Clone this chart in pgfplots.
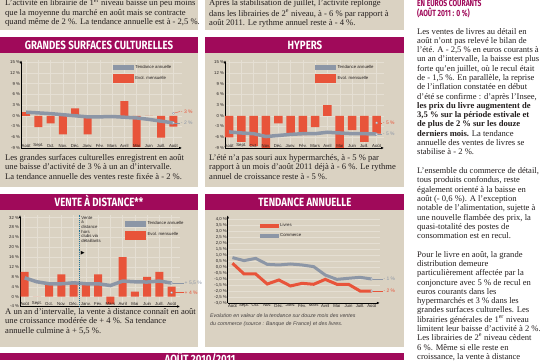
\documentclass[border=0pt]{standalone}
\usepackage{fontspec}
\setmainfont{Liberation Serif}
\newfontfamily\sansf{Liberation Sans}
\newfontfamily\titlef{Fira Sans}
\newfontfamily\symf{DejaVu Sans}
\usepackage{pgfplots}
\pgfplotsset{compat=1.18}
\usetikzlibrary{arrows.meta}

\definecolor{beige}{RGB}{218,210,194}
\definecolor{mag}{RGB}{160,10,90}
\definecolor{barred}{RGB}{232,84,58}
\definecolor{tgray}{RGB}{140,150,166}
\definecolor{gridc}{RGB}{229,223,211}
\definecolor{txt}{RGB}{35,30,30}
\definecolor{tealc}{RGB}{35,115,150}

\newcommand{\tickf}{\sansf\fontsize{4.3}{5}\selectfont}
\newcommand{\labf}{\sansf\fontsize{5}{6}\selectfont}
\newcommand{\bodyf}{\fontsize{8.6}{9.3}\selectfont}
\newcommand{\bodyg}{\fontsize{8.6}{9.6}\selectfont}
\newcommand{\ttl}[1]{\scalebox{0.81}[1]{\titlef\bfseries\fontsize{12}{12}\selectfont #1}}
\newcommand{\hed}[1]{\scalebox{0.75}[1]{\titlef\bfseries\fontsize{9}{9}\selectfont #1}}

\pgfplotsset{
  chartbase/.style={
    scale only axis, clip=false, anchor=south west,
    axis lines=left,
    axis line style={black, line width=0.5bp, -{Latex[length=3bp,width=2.6bp]}},
    x axis line style={-{Latex[length=3bp,width=2.6bp]}},
    y axis line style={-{Latex[length=3bp,width=2.6bp]}},
    major tick length=0pt,
    tick label style={font=\tickf, text=txt, inner sep=0.8bp},
    grid style={draw=gridc, line width=0.4bp},
    legend cell align=left,
    legend style={draw=none, fill=none, font=\tickf, text=txt, inner sep=0pt, row sep=2.5bp},
  },
  barchart/.style={chartbase, xtick={0,...,12}, xticklabels={}, grid=major},
  monthlab/.style={draw=none, mark=none, forget plot, nodes near coords, point meta=explicit symbolic,
    nodes near coords style={anchor=south, font=\tickf, text=txt, inner sep=0.6bp}},
  trendleg/.style={legend image code/.code={\fill[tgray] (0bp,-2.2bp) rectangle (20bp,2.2bp);}},
  barleg/.style={legend image code/.code={\fill[barred] (0bp,-4bp) rectangle (20bp,4bp);}},
  endmark/.style={only marks, mark=*, mark size=1.1bp, mark options={fill=white, draw=tgray, line width=0.3bp}, forget plot},
}

\begin{document}
\begin{tikzpicture}[x=1bp,y=1bp]
\useasboundingbox (0,0) rectangle (540,360);
\clip (0,0) rectangle (540,360);
\fill[white] (0,0) rectangle (540,360);
% panels
\fill[beige] (0,330) rectangle (198,360);
\fill[beige] (205,330) rectangle (404,360);
\fill[beige] (0,173) rectangle (198,307);
\fill[beige] (205,173) rectangle (404,307);
\fill[beige] (0,13) rectangle (198,150);
\fill[beige] (205,13) rectangle (404,150);
\fill[mag] (0,307) rectangle (198,323);
\fill[mag] (205,307) rectangle (404,323);
\fill[mag] (0,150) rectangle (198,166);
\fill[mag] (205,150) rectangle (404,166);
\fill[mag] (0,0) rectangle (404,7);
% titles
\node[anchor=base, inner sep=0pt, text=white] at (99,310.9) {\ttl{GRANDES SURFACES CULTURELLES}};
\node[anchor=base, inner sep=0pt, text=white] at (305,310.9) {\ttl{HYPERS}};
\node[anchor=base, inner sep=0pt, text=white] at (99,153.9) {\ttl{VENTE À DISTANCE**}};
\node[anchor=base, inner sep=0pt, text=white] at (305,153.9) {\ttl{TENDANCE ANNUELLE}};
\node[anchor=base, inner sep=0pt, text=white] at (200,-3) {\ttl{AOÛT 2010/2011}};

% ---------- Chart 1 : grandes surfaces culturelles
\begin{axis}[barchart, at={(21bp,212bp)}, width=161bp, height=87.7bp,
  xmin=-0.42, xmax=12.7, ymin=-9, ymax=15.5,
  ytick={-9,-6,-3,0,3,6,9,12,15},
  yticklabels={-9 \%,-6 \%,-3 \%,0 \%,3 \%,6 \%,9 \%,12 \%,15 \%},
  legend style={at={(0.57,0.97)}, anchor=north west}]
\addlegendimage{trendleg}
\addlegendentry{Tendance annuelle}
\addlegendimage{barleg}
\addlegendentry{Evol. mensuelle}
\addplot[ybar, bar width=8bp, fill=barred, draw=none, forget plot] coordinates
  {(0,1) (1,-3.2) (2,-2.1) (3,-5.2) (4,2.1) (5,-5.2) (6,-0.6) (7,-0.6) (8,4.1) (9,-8.7) (10,0) (11,-6.1) (12,-3)};
\addplot[tgray, line width=3.5bp, forget plot] coordinates
  {(0,1.0) (1,0.8) (2,0.6) (3,0.3) (4,0.0) (5,-0.3) (6,-0.3) (7,-0.2) (8,-0.4) (9,-0.6) (10,-1.0) (11,-1.5) (12,-2.0)};
\addplot[monthlab] coordinates {(0,-9)[Août] (1,-9)[Sept.] (2,-9)[Oct.] (3,-9)[Nov.] (4,-9)[Déc.] (5,-9)[Janv.] (6,-9)[Fév.] (7,-9)[Mars] (8,-9)[Avril] (9,-9)[Mai] (10,-9)[Juin] (11,-9)[Juill.] (12,-9)[Août]};
\draw[barred, line width=0.4bp] (axis cs:12,0.7) -- (axis cs:12.55,1.2) node[anchor=west, inner sep=0.6bp, font=\labf, text=barred] {- 3 \%};
\draw[tgray, line width=0.4bp] (axis cs:12,-2) -- (axis cs:12.55,-2) node[anchor=west, inner sep=0.6bp, font=\labf, text=tgray] {- 2 \%};
\addplot[endmark] coordinates {(12,0.7) (12,-2)};
\end{axis}

% ---------- Chart 2 : hypers
\begin{axis}[barchart, at={(225bp,212bp)}, width=159bp, height=87.7bp,
  xmin=-0.33, xmax=12.6, ymin=-9, ymax=15.5,
  ytick={-9,-6,-3,0,3,6,9,12,15},
  yticklabels={-9 \%,-6 \%,-3 \%,0 \%,3 \%,6 \%,9 \%,12 \%,15 \%},
  legend style={at={(0.566,0.97)}, anchor=north west}]
\addlegendimage{trendleg}
\addlegendentry{Tendance annuelle}
\addlegendimage{barleg}
\addlegendentry{Evol. mensuelle}
\addplot[ybar, bar width=8.5bp, fill=barred, draw=none, forget plot] coordinates
  {(0,-6) (1,-7.3) (2,-8.5) (3,-9) (4,-2.1) (5,-5.4) (6,-5.4) (7,-3.2) (8,3) (9,-9) (10,-4) (11,-7.3) (12,-5)};
\addplot[tgray, line width=3.5bp, forget plot] coordinates
  {(0,-4.5) (1,-4.8) (2,-5.0) (3,-5.8) (4,-5.5) (5,-5.2) (6,-5.0) (7,-5.0) (8,-4.6) (9,-4.8) (10,-5.0) (11,-5.0) (12,-5.1)};
\addplot[monthlab] coordinates {(0,-9)[Août] (1,-9)[Sept.] (2,-9)[Oct.] (3,-9)[Nov.] (4,-9)[Déc.] (5,-9)[Janv.] (6,-9)[Fév.] (7,-9)[Mars] (8,-9)[Avril] (9,-9)[Mai] (10,-9)[Juin] (11,-9)[Juill.] (12,-9)[Août]};
\draw[barred, line width=0.4bp] (axis cs:12,-2) -- (axis cs:12.45,-2) node[anchor=west, inner sep=0.6bp, font=\labf, text=barred] {- 5 \%};
\draw[tgray, line width=0.4bp] (axis cs:12,-5.1) -- (axis cs:12.45,-5.1) node[anchor=west, inner sep=0.6bp, font=\labf, text=tgray] {- 5 \%};
\addplot[endmark] coordinates {(12,-2) (12,-5.1)};
\end{axis}

% ---------- Chart 3 : vente a distance
\begin{axis}[barchart, at={(20bp,53.5bp)}, width=160bp, height=91.4bp,
  xmin=-0.38, xmax=12.68, ymin=-4, ymax=33,
  ytick={-4,0,4,8,12,16,20,24,28,32},
  yticklabels={-4 \%,0 \%,4 \%,8 \%,12 \%,16 \%,20 \%,24 \%,28 \%,32 \%},
  legend style={at={(0.656,0.955)}, anchor=north west}]
\addlegendimage{trendleg}
\addlegendentry{Tendance annuelle}
\addlegendimage{barleg}
\addlegendentry{Evol. mensuelle}
\addplot[ybar, bar width=8bp, fill=barred, draw=none, forget plot] coordinates
  {(0,10) (1,0) (2,5) (3,9) (4,5) (5,5) (6,9) (7,-3) (8,16) (9,2) (10,8) (11,10) (12,4)};
\addplot[tgray, line width=3.5bp, forget plot] coordinates
  {(0,7.6) (1,6.0) (2,5.2) (3,5.2) (4,5.6) (5,5.2) (6,5.2) (7,4.5) (8,6.3) (9,6.0) (10,5.9) (11,6.3) (12,5.5)};
\addplot[monthlab] coordinates {(0,-4)[Août] (1,-4)[Sept.] (2,-4)[Oct.] (3,-4)[Nov.] (4,-4)[Déc.] (5,-4)[Janv.] (6,-4)[Fév.] (7,-4)[Mars] (8,-4)[Avril] (9,-4)[Mai] (10,-4)[Juin] (11,-4)[Juill.] (12,-4)[Août]};
\draw[tealc, line width=1.4bp, dash pattern=on 1bp off 0.9bp] (axis cs:4.5,-4) -- (axis cs:4.5,33);
\node[anchor=north west, align=left, inner sep=0pt, text=txt, font=\sansf\fontsize{4.3}{4.7}\selectfont] at (axis cs:4.62,32.6) {Vente\\à\\distance\\hors\\clubs via\\détaillants};
\node[anchor=west, inner sep=0pt, font=\symf\fontsize{5}{5}\selectfont] at (axis cs:4.58,17.7) {▶};
\draw[tgray, line width=0.4bp] (axis cs:12,5.5) -- (axis cs:13.0,5.5) node[anchor=west, inner sep=0.6bp, font=\labf, text=tgray] {+ 5,5 \%};
\draw[barred, line width=0.4bp] (axis cs:12,1.6) -- (axis cs:13.0,1.6) node[anchor=west, inner sep=0.6bp, font=\labf, text=barred] {+ 4 \%};
\addplot[endmark] coordinates {(12,5.5) (12,1.6)};
\end{axis}

% ---------- Chart 4 : tendance annuelle
\begin{axis}[chartbase, at={(227.7bp,57bp)}, width=152.1bp, height=87.6bp,
  xmin=-0.41, xmax=12.7, ymin=-3, ymax=4.3,
  xtick={0,...,12},
  xticklabels={Août,Sept.,Oct.,Nov.,Déc.,Janv.,Fév.,Mars,Avril,Mai,Juin,Juill.,Août},
  ytick={-3,-2.5,-2,-1.5,-1,-0.5,0,0.5,1,1.5,2,2.5,3,3.5,4},
  yticklabels={{-3,0 \%},{-2,5 \%},{-2,0 \%},{-1,5 \%},{-1,0 \%},{-0,5 \%},{0,0 \%},{0,5 \%},{1,0 \%},{1,5 \%},{2,0 \%},{2,5 \%},{3,0 \%},{3,5 \%},{4,0 \%}},
  ymajorgrids, grid style={draw=gridc, line width=0.5bp},
  legend style={at={(0.21,0.935)}, anchor=north west, row sep=1.5bp}]
\addlegendimage{legend image code/.code={\fill[barred] (0bp,-1.8bp) rectangle (18bp,1.8bp);}}
\addlegendentry{Livres}
\addlegendimage{legend image code/.code={\fill[tgray] (0bp,-1.8bp) rectangle (18bp,1.8bp);}}
\addlegendentry{Commerce}
\addplot[tgray, line width=3bp, forget plot] coordinates
  {(0,0.78) (1,0.53) (2,0.72) (3,0.22) (4,0.17) (5,0.25) (6,0.17) (7,0.03) (8,-0.67) (9,-1.03) (10,-0.94) (11,-0.86) (12,-1.0)};
\addplot[barred, line width=3bp, forget plot] coordinates
  {(0,0.31) (1,-0.58) (2,-0.58) (3,-1.42) (4,-1.08) (5,-1.58) (6,-1.36) (7,-1.44) (8,-1.03) (9,-1.44) (10,-1.44) (11,-2.0) (12,-2.0)};
\draw[tgray, line width=0.4bp] (axis cs:12,-1.0) -- (axis cs:12.95,-1.0) node[anchor=west, inner sep=0.6bp, font=\labf, text=tgray] {- 1 \%};
\draw[barred, line width=0.4bp] (axis cs:12,-2.0) -- (axis cs:12.95,-2.0) node[anchor=west, inner sep=0.6bp, font=\labf, text=barred] {- 2 \%};
\addplot[endmark] coordinates {(12,-1.0) (12,-2.0)};
\end{axis}

% ---------- texts in panels
\node[anchor=north west, align=left, inner sep=0pt, text=txt, font=\bodyf] at (5,361) {\strut L’activité en librairie de 1\textsuperscript{er} niveau baisse un peu moins\\que la moyenne du marché en août mais se contracte\\quand même de 2 \%. La tendance annuelle est à - 2,5 \%.};
\node[anchor=north west, align=left, inner sep=0pt, text=txt, font=\bodyf] at (209,361) {\strut Après la stabilisation de juillet, l’activité replonge\\dans les librairies de 2\textsuperscript{e} niveau, à - 6 \% par rapport à\\août 2011. Le rythme annuel reste à - 4 \%.};
\node[anchor=north west, align=left, inner sep=0pt, text=txt, font=\bodyg] at (5,206.7) {\strut Les grandes surfaces culturelles enregistrent en août\\une baisse d’activité de 3 \% à un an d’intervalle.\\La tendance annuelle des ventes reste fixée à - 2 \%.};
\node[anchor=north west, align=left, inner sep=0pt, text=txt, font=\bodyg] at (209,206.7) {\strut L’été n’a pas souri aux hypermarchés, à - 5 \% par\\rapport à un mois d’août 2011 déjà à - 6 \%. Le rythme\\annuel de croissance reste à - 5 \%.};
\node[anchor=north west, align=left, inner sep=0pt, text=txt, font=\bodyg] at (5,52.7) {\strut A un an d’intervalle, la vente à distance connaît en août\\une croissance modérée de + 4 \%. Sa tendance\\annuelle culmine à + 5,5 \%.};
\node[anchor=north west, align=left, inner sep=0pt, text=txt!85, font=\sansf\itshape\fontsize{5.3}{8}\selectfont] at (210,48.2) {\strut Evolution en valeur de la tendance sur douze mois des ventes\\du commerce (source : Banque de France) et des livres.};

% ---------- right column
\node[anchor=base west, inner sep=0pt, text=mag] at (417,353.4) {\hed{EN EUROS COURANTS}};
\node[anchor=base west, inner sep=0pt, text=mag] at (417,344) {\hed{(AOÛT 2011 : 0 \%)}};
\node[anchor=north west, align=left, inner sep=0pt, text=txt, font=\bodyf] at (417,332.5) {\strut Les ventes de livres au détail en\\août n’ont pas relevé le bilan de\\l’été. A - 2,5 \% en euros courants à\\un an d’intervalle, la baisse est plus\\forte qu’en juillet, où le recul était\\de - 1,5 \%. En parallèle, la reprise\\de l’inflation constatée en début\\d’été se confirme : d’après l’Insee,\\\textbf{les prix du livre augmentent de}\\\textbf{3,5 \% sur la période estivale et}\\\textbf{de plus de 2 \% sur les douze}\\\textbf{derniers mois.} La tendance\\annuelle des ventes de livres se\\stabilise à - 2 \%.};
\node[anchor=north west, align=left, inner sep=0pt, text=txt, font=\bodyf] at (417,193) {\strut L’ensemble du commerce de détail,\\tous produits confondus, reste\\également orienté à la baisse en\\août (- 0,6 \%). A l’exception\\notable de l’alimentation, sujette à\\une nouvelle flambée des prix, la\\quasi-totalité des postes de\\consommation est en recul.};
\node[anchor=north west, align=left, inner sep=0pt, text=txt, font=\bodyf] at (417,109.3) {\strut Pour le livre en août, la grande\\distribution demeure\\particulièrement affectée par la\\conjoncture avec 5 \% de recul en\\euros courants dans les\\hypermarchés et 3 \% dans les\\grandes surfaces culturelles. Les\\librairies générales de 1\textsuperscript{er} niveau\\limitent leur baisse d’activité à 2 \%.\\Les librairies de 2\textsuperscript{e} niveau cèdent\\6 \%. Même si elle reste en\\croissance, la vente à distance};
\end{tikzpicture}
\end{document}
